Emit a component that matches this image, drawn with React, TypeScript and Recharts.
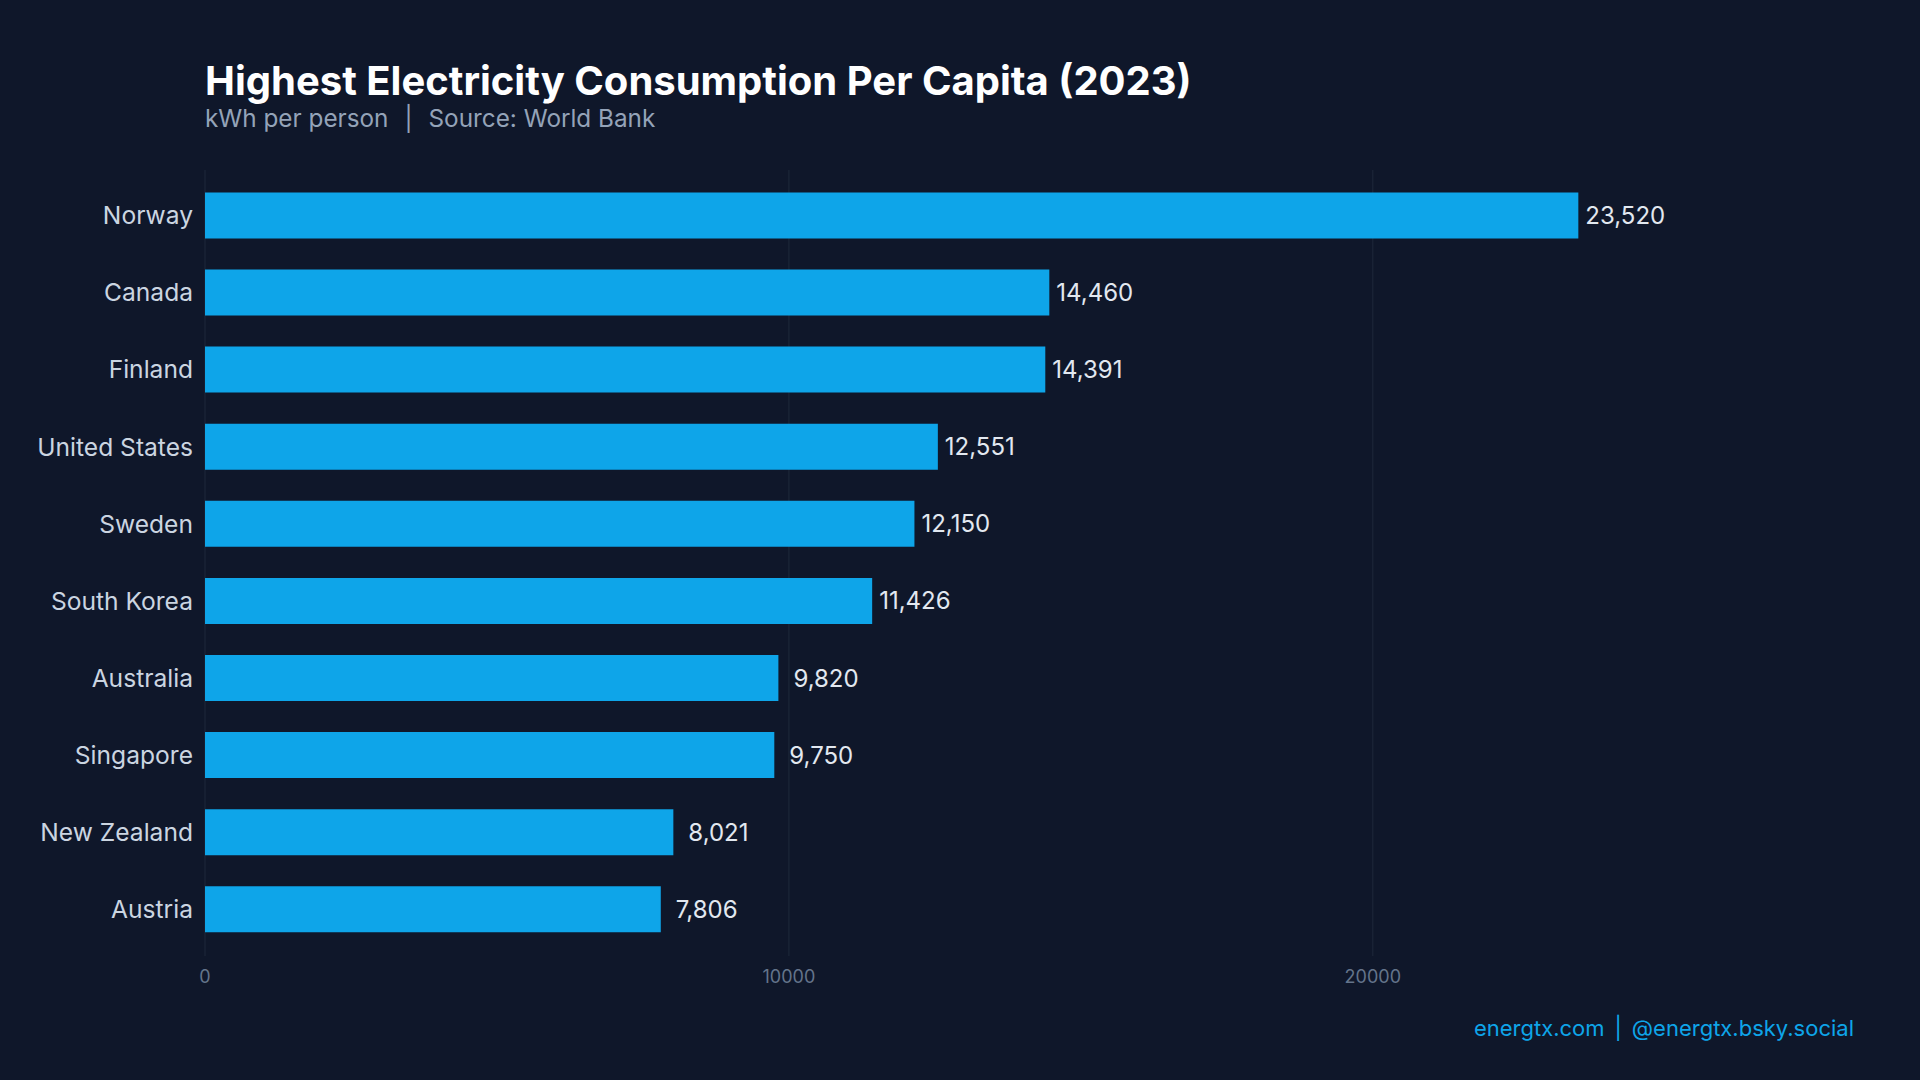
import { BarChart, Bar, XAxis, YAxis, CartesianGrid, LabelList } from 'recharts';

const countries = [
    'Norway',
    'Canada',
    'Finland',
    'United States',
    'Sweden',
    'South Korea',
    'Australia',
    'Singapore',
    'New Zealand',
    'Austria',
];
const kwhPerPerson = [23520, 14460, 14391, 12551, 12150, 11426, 9820, 9750, 8021, 7806];
const xTicks = [0, 10000, 20000];

const BG = '#0f172a';
const BAR = '#0ea5e9';

const data = countries.map((name, i) => ({ name, value: kwhPerPerson[i] }));
const xMax = Math.max(...kwhPerPerson) * 1.2;

// short numbers get a little extra room, like a padded label
const renderValue = (props: any) => {
    const { x, y, width, height, value } = props;
    const pad = value < 10000 ? 8 : 0;
    return (
        <text
            x={x + width + 7 + pad}
            y={y + height / 2}
            dy="0.355em"
            fill="#e2e8f0"
            fontSize={24}
            fontFamily="Inter"
        >
            {value.toLocaleString('en-US')}
        </text>
    );
};

export default function App() {
    return (
        <div
            style={{
                position: 'absolute',
                left: 0,
                top: 0,
                width: 1920,
                height: 1080,
                background: BG,
                fontFamily: 'Inter, sans-serif',
                overflow: 'hidden',
            }}
        >
            <div
                style={{
                    position: 'absolute',
                    left: 205,
                    top: 61,
                    fontSize: 40,
                    fontWeight: 700,
                    lineHeight: 1,
                    color: '#ffffff',
                    whiteSpace: 'nowrap',
                }}
            >
                Highest Electricity Consumption Per Capita (2023)
            </div>
            <div
                style={{
                    position: 'absolute',
                    left: 205,
                    top: 106,
                    fontSize: 24.3,
                    lineHeight: 1,
                    color: '#94a3b8',
                    whiteSpace: 'nowrap',
                }}
            >
                kWh per person
                <span style={{ margin: '0 16px' }}>|</span>
                Source: World Bank
            </div>

            <BarChart
                width={1920}
                height={1080}
                data={data}
                layout="vertical"
                margin={{ top: 170, right: 67, bottom: 94, left: 0 }}
                barCategoryGap="20%"
                style={{ position: 'absolute', left: 0, top: 0 }}
            >
                <CartesianGrid
                    horizontal={false}
                    verticalValues={xTicks}
                    stroke="#1e293b"
                    strokeWidth={1}
                />
                <XAxis
                    type="number"
                    domain={[0, xMax]}
                    ticks={xTicks}
                    axisLine={false}
                    tickLine={false}
                    tickMargin={8}
                    height={30}
                    tick={{ fill: '#64748b', fontSize: 18, fontFamily: 'Inter' }}
                />
                <YAxis
                    type="category"
                    dataKey="name"
                    width={205}
                    axisLine={false}
                    tickLine={false}
                    tickMargin={6}
                    padding={{ top: 7, bottom: 8 }}
                    interval={0}
                    tick={{ fill: '#cbd5e1', fontSize: 24.6, fontFamily: 'Inter' }}
                />
                <Bar dataKey="value" fill={BAR} isAnimationActive={false}>
                    <LabelList dataKey="value" content={renderValue} />
                </Bar>
            </BarChart>

            <div
                style={{
                    position: 'absolute',
                    right: 66,
                    top: 1017,
                    fontSize: 22,
                    lineHeight: 1,
                    color: BAR,
                    whiteSpace: 'nowrap',
                }}
            >
                energtx.com
                <span style={{ margin: '0 10px' }}>|</span>
                @energtx.bsky.social
            </div>
        </div>
    );
}
